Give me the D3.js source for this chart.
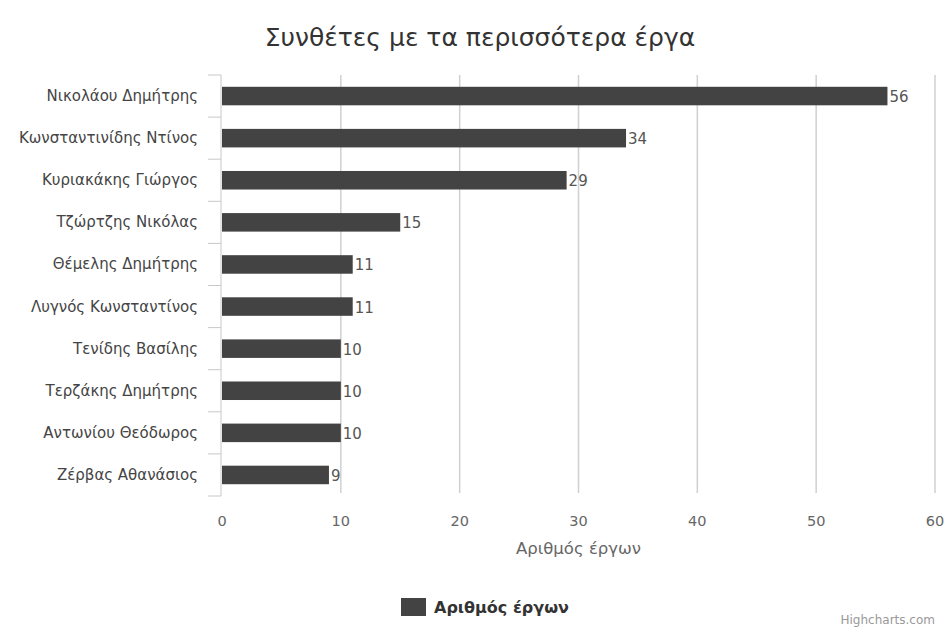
<!DOCTYPE html>
<html>
<head>
<meta charset="utf-8">
<script src="https://cdn.jsdelivr.net/npm/d3@7"></script>
<style>
  body { margin: 0; background: #fff; }
  text { font-family: "DejaVu Sans", Verdana, sans-serif; }
</style>
</head>
<body>
<div id="chart"></div>
<script>
const composers = ["Νικολάου Δημήτρης", "Κωνσταντινίδης Ντίνος", "Κυριακάκης Γιώργος", "Τζώρτζης Νικόλας",
    "Θέμελης Δημήτρης", "Λυγνός Κωνσταντίνος", "Τενίδης Βασίλης", "Τερζάκης Δημήτρης",
    "Αντωνίου Θεόδωρος", "Ζέρβας Αθανάσιος"]
const works = [56, 34, 29, 15, 11, 11, 10, 10, 10, 9]
const xTicks = [0, 10, 20, 30, 40, 50, 60]
const seriesName = "Αριθμός έργων"

const width = 950, height = 628
const plotLeft = 222, plotRight = 935, plotTop = 75, plotBottom = 496

const svg = d3.select("#chart").append("svg")
    .attr("width", width)
    .attr("height", height)

svg.append("rect").attr("width", width).attr("height", height).attr("fill", "#fff")

// title
svg.append("text")
    .attr("x", 480).attr("y", 46)
    .attr("text-anchor", "middle")
    .attr("font-size", 25)
    .attr("fill", "#333")
    .text("Συνθέτες με τα περισσότερα έργα")

let x = d3.scaleLinear().domain([0, 60]).range([plotLeft, plotRight])
let y = d3.scaleBand().domain(composers).range([plotTop, plotBottom]).paddingInner(0.56).paddingOuter(0.28)

// vertical grid lines
svg.append("g").selectAll("line").data(xTicks.slice(1)).enter()
    .append("line")
    .attr("x1", (d) => x(d)).attr("x2", (d) => x(d))
    .attr("y1", plotTop).attr("y2", plotBottom - 3)
    .attr("stroke", "#d0d0d0")
    .attr("stroke-width", 1.5)

// x tick labels
svg.append("g").selectAll("text").data(xTicks).enter()
    .append("text")
    .attr("x", (d) => x(d)).attr("y", 526)
    .attr("text-anchor", "middle")
    .attr("font-size", 14.5)
    .attr("fill", "#666")
    .text((d) => d)

svg.append("text")
    .attr("x", (plotLeft + plotRight) / 2).attr("y", 554)
    .attr("text-anchor", "middle")
    .attr("font-size", 16.5)
    .attr("fill", "#666")
    .text(seriesName)

// category axis line and ticks
svg.append("line")
    .attr("x1", plotLeft - 1).attr("x2", plotLeft - 1)
    .attr("y1", plotTop).attr("y2", plotBottom)
    .attr("stroke", "#c8c8c8")
svg.append("g").selectAll("line").data(d3.range(composers.length + 1)).enter()
    .append("line")
    .attr("x1", plotLeft - 14).attr("x2", plotLeft - 1)
    .attr("y1", (i) => plotTop + i * (plotBottom - plotTop) / composers.length)
    .attr("y2", (i) => plotTop + i * (plotBottom - plotTop) / composers.length)
    .attr("stroke", "#c8c8c8")

svg.append("g").selectAll("text").data(composers).enter()
    .append("text")
    .attr("x", 198)
    .attr("y", (d) => y(d) + y.bandwidth() / 2 + 5)
    .attr("text-anchor", "end")
    .attr("font-size", 15)
    .attr("fill", "#444")
    .text((d) => d)

// bars
let rows = composers.map((c, i) => ({ name: c, value: works[i] }))
svg.append("g").selectAll("rect").data(rows).enter()
    .append("rect")
    .attr("x", x(0))
    .attr("y", (d) => y(d.name))
    .attr("width", (d) => x(d.value) - x(0))
    .attr("height", y.bandwidth())
    .attr("fill", "#434343")

svg.append("g").selectAll("text").data(rows).enter()
    .append("text")
    .attr("x", (d) => x(d.value) + 2)
    .attr("y", (d) => y(d.name) + y.bandwidth() / 2 + 6)
    .attr("font-size", 15)
    .attr("fill", "#555")
    .text((d) => d.value)

// legend
svg.append("rect")
    .attr("x", 401).attr("y", 598)
    .attr("width", 25).attr("height", 18)
    .attr("fill", "#434343")
svg.append("text")
    .attr("x", 434).attr("y", 613)
    .attr("font-size", 16)
    .attr("font-weight", "bold")
    .attr("fill", "#333")
    .text(seriesName)

svg.append("text")
    .attr("x", 935).attr("y", 624)
    .attr("text-anchor", "end")
    .attr("font-size", 12)
    .attr("fill", "#999")
    .text("Highcharts.com")
</script>
</body>
</html>
